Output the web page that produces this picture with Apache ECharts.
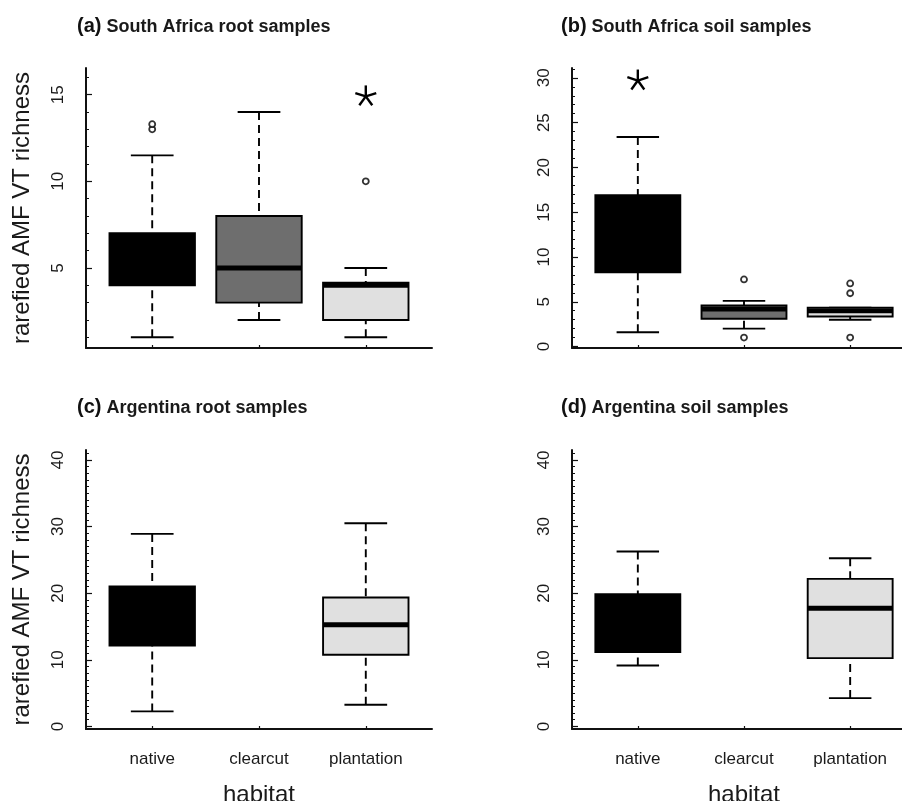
<!DOCTYPE html>
<html>
<head>
<meta charset="utf-8">
<script src="https://cdn.jsdelivr.net/npm/echarts@6/dist/echarts.min.js"></script>
<style>
html,body{margin:0;padding:0;background:#fff;}
#chart{width:902px;height:801px;}
</style>
</head>
<body>
<div id="chart"></div>
<script>
// ---------- data ----------
const categories = ['native', 'clearcut', 'plantation'];
const panelLetters = ['(a)', '(b)', '(c)', '(d)'];
const panelTitles = ['South Africa root samples', 'South Africa soil samples', 'Argentina root samples', 'Argentina soil samples'];
const yAxisName = 'rarefied AMF VT richness';
const xAxisName = 'habitat';

// (a) South Africa root
const saRootLow = [1, 2, 1];
const saRootQ1 = [4, 3, 2];
const saRootMedian = [5.5, 5, 4];
const saRootQ3 = [7, 8, 4.15];
const saRootHigh = [11.5, 14, 5];
const saRootOutX = [1, 1, 3];
const saRootOutY = [13.0, 13.3, 10];
const saRootStar = [3, 14.9];

// (b) South Africa soil
const saSoilLow = [1.6, 2.0, 3.0];
const saSoilQ1 = [8.3, 3.1, 3.35];
const saSoilMedian = [12, 4.2, 4.0];
const saSoilQ3 = [16.9, 4.6, 4.35];
const saSoilHigh = [23.4, 5.1, 4.35];
const saSoilOutX = [2, 2, 3, 3, 3];
const saSoilOutY = [7.5, 1.0, 7.05, 5.95, 1.0];
const saSoilStar = [1, 29.7];

// (c) Argentina root (no clearcut)
const arRootLow = [2.25, null, 3.25];
const arRootQ1 = [12.15, null, 10.75];
const arRootMedian = [16, null, 15.25];
const arRootQ3 = [21.0, null, 19.35];
const arRootHigh = [28.9, null, 30.5];

// (d) Argentina soil (no clearcut)
const arSoilLow = [9.15, null, 4.25];
const arSoilQ1 = [11.15, null, 10.25];
const arSoilMedian = [15, null, 17.75];
const arSoilQ3 = [19.85, null, 22.15];
const arSoilHigh = [26.25, null, 25.25];

// axis ranges / ticks
const yRanges = [[0.38, 16.54], [-0.16, 31.1], [-0.39, 41.5], [-0.39, 41.5]];
const yMajorTicks = [[5, 10, 15], [0, 5, 10, 15, 20, 25, 30], [0, 10, 20, 30, 40], [0, 10, 20, 30, 40]];
const yMinorTicks = [
  [1,2,3,4,5,6,7,8,9,10,11,12,13,14,15,16],
  [0,1,2,3,4,5,6,7,8,9,10,11,12,13,14,15,16,17,18,19,20,21,22,23,24,25,26,27,28,29,30,31],
  [0,1,2,3,4,5,6,7,8,9,10,11,12,13,14,15,16,17,18,19,20,21,22,23,24,25,26,27,28,29,30,31,32,33,34,35,36,37,38,39,40,41],
  [0,1,2,3,4,5,6,7,8,9,10,11,12,13,14,15,16,17,18,19,20,21,22,23,24,25,26,27,28,29,30,31,32,33,34,35,36,37,38,39,40,41]
];
const xRange = [0.38, 3.62];
const xTicks = [1, 2, 3];

// ---------- styling ----------
const fills = ['#000000', '#6e6e6e', '#e0e0e0'];
const FONT = '"Liberation Sans", Arial, Helvetica, sans-serif';
const grids = [
  {left: 86, top: 68, width: 346, height: 280},
  {left: 572, top: 68, width: 344, height: 280},
  {left: 86, top: 450, width: 346, height: 279},
  {left: 572, top: 450, width: 344, height: 279}
];
const titlePos = [[77, 12], [561, 12], [77, 393], [561, 393]];

function boxRows(low, q1, med, q3, high) {
  const rows = [];
  for (let i = 0; i < categories.length; i++) {
    if (low[i] == null) continue;
    rows.push([i + 1, low[i], q1[i], med[i], q3[i], high[i], i]);
  }
  return rows;
}
const boxSets = [
  boxRows(saRootLow, saRootQ1, saRootMedian, saRootQ3, saRootHigh),
  boxRows(saSoilLow, saSoilQ1, saSoilMedian, saSoilQ3, saSoilHigh),
  boxRows(arRootLow, arRootQ1, arRootMedian, arRootQ3, arRootHigh),
  boxRows(arSoilLow, arSoilQ1, arSoilMedian, arSoilQ3, arSoilHigh)
];
const outSets = [
  saRootOutX.map((x, i) => [x, saRootOutY[i]]),
  saSoilOutX.map((x, i) => [x, saSoilOutY[i]]),
  [], []
];
const starSets = [[saRootStar], [saSoilStar], [], []];

function renderBox(params, api) {
  const x = api.value(0), lo = api.value(1), q1 = api.value(2), md = api.value(3), q3 = api.value(4), hi = api.value(5), ci = api.value(6);
  const halfW = api.size([0.8, 0])[0] / 2;
  const capW = halfW / 2;
  const pLo = api.coord([x, lo]), pQ1 = api.coord([x, q1]), pMd = api.coord([x, md]), pQ3 = api.coord([x, q3]), pHi = api.coord([x, hi]);
  const cx = pMd[0];
  const dash = {stroke: '#000', lineWidth: 1.9, lineDash: [8, 5]};
  const solid = {stroke: '#000', lineWidth: 1.9};
  const children = [];
  if (pLo[1] > pQ1[1] + 0.5) children.push({type: 'line', shape: {x1: cx, y1: pLo[1], x2: cx, y2: pQ1[1]}, style: dash});
  if (pHi[1] < pQ3[1] - 0.5) children.push({type: 'line', shape: {x1: cx, y1: pHi[1], x2: cx, y2: pQ3[1]}, style: dash});
  children.push({type: 'line', shape: {x1: cx - capW, y1: pLo[1], x2: cx + capW, y2: pLo[1]}, style: solid});
  children.push({type: 'line', shape: {x1: cx - capW, y1: pHi[1], x2: cx + capW, y2: pHi[1]}, style: solid});
  children.push({type: 'rect', shape: {x: cx - halfW, y: pQ3[1], width: 2 * halfW, height: pQ1[1] - pQ3[1]},
    style: {fill: fills[ci], stroke: '#000', lineWidth: 1.9}});
  children.push({type: 'line', shape: {x1: cx - halfW, y1: pMd[1], x2: cx + halfW, y2: pMd[1]}, style: {stroke: '#000', lineWidth: 5}});
  return {type: 'group', children: children};
}

function renderStar(params, api) {
  const p = api.coord([api.value(0), api.value(1)]);
  const r = 11;
  const children = [];
  for (let k = 0; k < 5; k++) {
    const a = (-90 + 72 * k) * Math.PI / 180;
    children.push({type: 'line', shape: {x1: p[0], y1: p[1], x2: p[0] + r * Math.cos(a), y2: p[1] + r * Math.sin(a)},
      style: {stroke: '#000', lineWidth: 2.4}});
  }
  return {type: 'group', children: children};
}

const option = {
  backgroundColor: '#ffffff',
  animation: false,
  title: panelLetters.map((l, i) => ({
    left: titlePos[i][0], top: titlePos[i][1], padding: 0,
    text: '{p|' + l + '} {t|' + panelTitles[i] + '}',
    textStyle: {
      rich: {
        p: {fontFamily: FONT, fontSize: 20, fontWeight: 'bold', color: '#111', lineHeight: 24, verticalAlign: 'bottom'},
        t: {fontFamily: FONT, fontSize: 18, fontWeight: 'bold', color: '#1a1a1a', lineHeight: 24, verticalAlign: 'bottom'}
      }
    }
  })),
  grid: grids.map(g => Object.assign({containLabel: false, outerBoundsMode: 'none'}, g)),
  xAxis: grids.map((g, i) => ({
    type: 'value', gridIndex: i, min: xRange[0], max: xRange[1],
    name: i >= 2 ? xAxisName : '', nameLocation: 'middle', nameGap: 54,
    nameTextStyle: {fontFamily: FONT, fontSize: 24, color: '#1a1a1a'},
    axisLine: {show: true, onZero: false, lineStyle: {color: '#111', width: 2}},
    axisTick: {show: true, inside: true, length: 3, customValues: xTicks, lineStyle: {color: '#111', width: 1.2}},
    axisLabel: {show: i >= 2, customValues: xTicks, margin: 22, fontFamily: FONT, fontSize: 17, color: '#1a1a1a',
      formatter: v => categories[Math.round(v) - 1]},
    splitLine: {show: false}
  })),
  yAxis: grids.map((g, i) => ({
    type: 'value', gridIndex: i, position: 'left', min: yRanges[i][0], max: yRanges[i][1],
    name: (i === 0 || i === 2) ? yAxisName : '', nameLocation: 'middle', nameGap: 52,
    nameTextStyle: {fontFamily: FONT, fontSize: 24, color: '#1a1a1a'},
    axisLine: {show: true, onZero: false, lineStyle: {color: '#111', width: 2}},
    axisTick: {show: true, inside: true, length: 6, customValues: yMajorTicks[i], lineStyle: {color: '#111', width: 1.2}},
    axisLabel: {show: true, rotate: 90, margin: 19, customValues: yMajorTicks[i], fontFamily: FONT, fontSize: 17, color: '#1a1a1a'},
    splitLine: {show: false}
  })).concat(grids.map((g, i) => ({
    type: 'value', gridIndex: i, position: 'left', offset: 0, min: yRanges[i][0], max: yRanges[i][1],
    axisLine: {show: false},
    axisTick: {show: true, inside: true, length: 3, customValues: yMinorTicks[i], lineStyle: {color: '#111', width: 1}},
    axisLabel: {show: false},
    splitLine: {show: false}
  }))),
  series: [].concat(
    boxSets.map((d, i) => ({
      type: 'custom', xAxisIndex: i, yAxisIndex: i, renderItem: renderBox, data: d,
      encode: {x: 0, y: [1, 2, 3, 4, 5]}, clip: false
    })),
    outSets.map((d, i) => ({
      type: 'scatter', xAxisIndex: i, yAxisIndex: i, data: d, symbol: 'circle', symbolSize: 6,
      itemStyle: {color: '#fff', borderColor: '#000', borderWidth: 1.8}, z: 5
    })),
    starSets.map((d, i) => ({
      type: 'custom', xAxisIndex: i, yAxisIndex: i, renderItem: renderStar, data: d, encode: {x: 0, y: 1}
    }))
  )
};

const chart = echarts.init(document.getElementById('chart'), null, {renderer: 'canvas'});
chart.setOption(option);
</script>
</body>
</html>
